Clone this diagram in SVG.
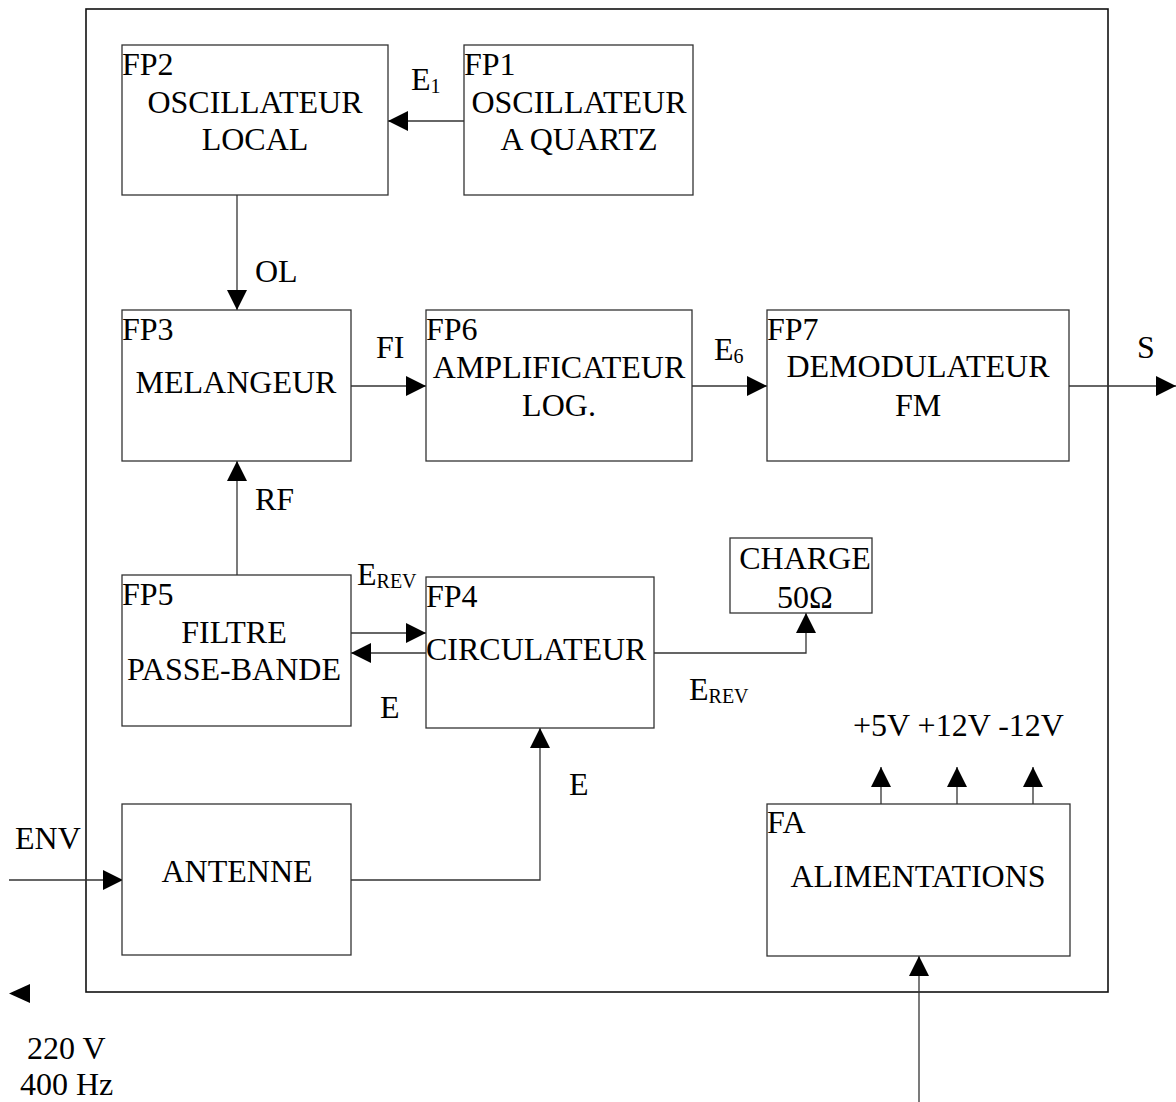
<svg xmlns="http://www.w3.org/2000/svg" width="1176" height="1102" viewBox="0 0 1176 1102">
<style>
text{font-family:"Liberation Serif","Times New Roman",serif;font-size:32px;fill:#000}
.c{text-anchor:middle}
.sub{font-size:20px}
.box{fill:#fff;stroke:#333;stroke-width:1.3}
.ln{fill:none;stroke:#333;stroke-width:1.3}
</style>
<defs>
<marker id="ah" markerUnits="userSpaceOnUse" markerWidth="20" markerHeight="20" refX="20" refY="10" orient="auto">
<path d="M0,0 L20,10 L0,20 z" fill="#000"/>
</marker>
</defs>
<rect id="frame" x="86" y="9" width="1022" height="983" fill="none" stroke="#111" stroke-width="1.6"/>

<g id="connectors">
<line class="ln" x1="464" y1="121" x2="388" y2="121" marker-end="url(#ah)"/>
<line class="ln" x1="237" y1="195" x2="237" y2="310" marker-end="url(#ah)"/>
<line class="ln" x1="351" y1="386" x2="426" y2="386" marker-end="url(#ah)"/>
<line class="ln" x1="692" y1="386" x2="767" y2="386" marker-end="url(#ah)"/>
<line class="ln" x1="1069" y1="386" x2="1176" y2="386" marker-end="url(#ah)"/>
<line class="ln" x1="237" y1="575" x2="237" y2="461" marker-end="url(#ah)"/>
<line class="ln" x1="351" y1="633" x2="426" y2="633" marker-end="url(#ah)"/>
<line class="ln" x1="426" y1="653" x2="351" y2="653" marker-end="url(#ah)"/>
<polyline class="ln" points="654,653 806,653 806,613" marker-end="url(#ah)"/>
<polyline class="ln" points="351,880 540,880 540,728" marker-end="url(#ah)"/>
<line class="ln" x1="9" y1="880" x2="123" y2="880" marker-end="url(#ah)"/>
<line class="ln" x1="881" y1="804" x2="881" y2="767" marker-end="url(#ah)"/>
<line class="ln" x1="957" y1="804" x2="957" y2="767" marker-end="url(#ah)"/>
<line class="ln" x1="1033" y1="804" x2="1033" y2="767" marker-end="url(#ah)"/>
<line class="ln" x1="919" y1="1102" x2="919" y2="956" marker-end="url(#ah)"/>
<path d="M30,984 L9,993.5 L30,1003 z" fill="#000"/>
<text x="411" y="90">E<tspan class="sub" dy="3">1</tspan></text>
<text x="255" y="282">OL</text>
<text x="376" y="358">FI</text>
<text x="714" y="360">E<tspan class="sub" dy="3">6</tspan></text>
<text x="1137" y="358">S</text>
<text x="255" y="510">RF</text>
<text x="357" y="585">E<tspan class="sub" dy="3">REV</tspan></text>
<text x="380" y="718">E</text>
<text x="689" y="700">E<tspan class="sub" dy="3">REV</tspan></text>
<text x="569" y="795">E</text>
<text x="15" y="849">ENV</text>
<text x="853" y="736">+5V +12V -12V</text>
<text x="27" y="1059">220 V</text>
<text x="20" y="1095">400 Hz</text>
</g>

<g id="FP2">
<rect class="box" x="122" y="45" width="266" height="150"/>
<text x="122" y="75">FP2</text>
<text class="c" x="255" y="113">OSCILLATEUR</text>
<text class="c" x="255" y="150">LOCAL</text>
</g>
<g id="FP1">
<rect class="box" x="464" y="45" width="229" height="150"/>
<text x="464" y="75">FP1</text>
<text class="c" x="579" y="113">OSCILLATEUR</text>
<text class="c" x="579" y="150">A QUARTZ</text>
</g>
<g id="FP3">
<rect class="box" x="122" y="310" width="229" height="151"/>
<text x="122" y="340">FP3</text>
<text class="c" x="236" y="393">MELANGEUR</text>
</g>
<g id="FP6">
<rect class="box" x="426" y="310" width="266" height="151"/>
<text x="426" y="340">FP6</text>
<text class="c" x="559" y="378">AMPLIFICATEUR</text>
<text class="c" x="559" y="416">LOG.</text>
</g>
<g id="FP7">
<rect class="box" x="767" y="310" width="302" height="151"/>
<text x="767" y="340">FP7</text>
<text class="c" x="918" y="377">DEMODULATEUR</text>
<text class="c" x="918" y="416">FM</text>
</g>
<g id="FP5">
<rect class="box" x="122" y="575" width="229" height="151"/>
<text x="122" y="605">FP5</text>
<text class="c" x="234" y="643">FILTRE</text>
<text class="c" x="234" y="680">PASSE-BANDE</text>
</g>
<g id="FP4">
<rect class="box" x="426" y="577" width="228" height="151"/>
<text x="426" y="607">FP4</text>
<text x="426" y="660">CIRCULATEUR</text>
</g>
<g id="CHARGE">
<rect class="box" x="730" y="538" width="142" height="75"/>
<text class="c" x="805" y="569">CHARGE</text>
<text class="c" x="805" y="608">50Ω</text>
</g>
<g id="ANTENNE">
<rect class="box" x="122" y="804" width="229" height="151"/>
<text class="c" x="237" y="882">ANTENNE</text>
</g>
<g id="FA">
<rect class="box" x="767" y="804" width="303" height="152"/>
<text x="767" y="833">FA</text>
<text class="c" x="918" y="887">ALIMENTATIONS</text>
</g>
</svg>
